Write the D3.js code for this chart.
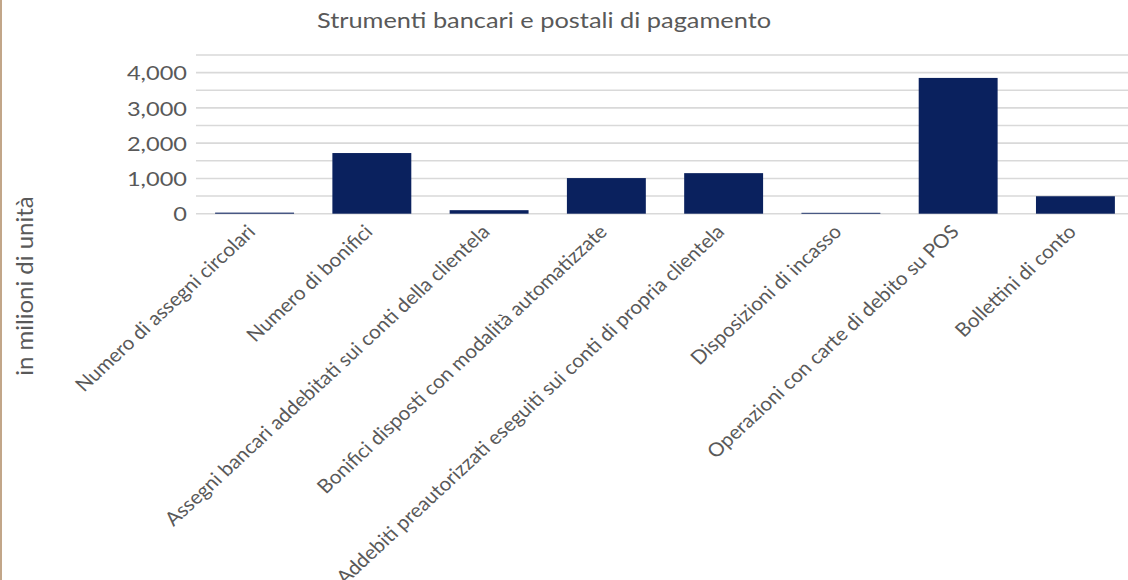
<!DOCTYPE html>
<html>
<head>
<meta charset="utf-8">
<script src="https://cdn.jsdelivr.net/npm/d3@7"></script>
<style>
  html, body { margin: 0; padding: 0; background: #fff; }
  svg { display: block; }
  text { font-family: Lato, "Open Sans", sans-serif; fill: #595959; }
</style>
</head>
<body>
<svg id="chart" width="1128" height="580"></svg>
<script>
// Payment instruments, millions of operations
const categories = [
  "Numero di assegni circolari",
  "Numero di bonifici",
  "Assegni bancari addebitati sui conti della clientela",
  "Bonifici disposti con modalità automatizzate",
  "Addebiti preautorizzati eseguiti sui conti di propria clientela",
  "Disposizioni di incasso",
  "Operazioni con carte di debito su POS",
  "Bollettini di conto"
];
const values = [30, 1720, 100, 1010, 1150, 25, 3850, 495];
const gridValues = [0, 500, 1000, 1500, 2000, 2500, 3000, 3500, 4000, 4500];
const tickLabels = [0, 1000, 2000, 3000, 4000];

const title = "Strumenti bancari e postali di pagamento";
const yTitle = "in milioni di unità";

// horizontal widening applied to the text glyphs
const sx = 1.18;
const sxLabel = 1.08;

const svg = d3.select("#chart");

// left frame edge
svg.append("rect")
  .attr("x", 0).attr("y", 0).attr("width", 2).attr("height", 580)
  .attr("fill", "#c2a689");

const x = d3.scaleBand()
  .domain(categories)
  .range([196, 1134])
  .paddingInner(0.327)
  .paddingOuter(0.163);

const y = d3.scaleLinear()
  .domain([0, 4500])
  .range([213.7, 55]);

// horizontal gridlines
svg.append("g")
  .selectAll("line")
  .data(gridValues)
  .join("line")
  .attr("x1", 196).attr("x2", 1134)
  .attr("y1", d => y(d)).attr("y2", d => y(d))
  .attr("stroke", "#d9d9d9")
  .attr("stroke-width", 1.6);

// y tick labels
const yAxis = d3.axisLeft(y)
  .tickValues(tickLabels)
  .tickFormat(d3.format(","))
  .tickSize(0)
  .tickPadding(0);

const yg = svg.append("g")
  .attr("transform", "translate(187,0)")
  .call(yAxis);
yg.select(".domain").remove();
yg.selectAll("text")
  .style("font-family", "Lato, sans-serif")
  .style("font-size", "20px")
  .attr("fill", "#595959")
  .attr("x", 0)
  .attr("dy", "0.36em")
  .attr("transform", `scale(${sx},1)`);

// bars
svg.append("g")
  .selectAll("rect")
  .data(values)
  .join("rect")
  .attr("x", (d, i) => x(categories[i]))
  .attr("width", x.bandwidth())
  .attr("y", d => y(d))
  .attr("height", d => y(0) - y(d))
  .attr("fill", "#0a215e");

// category labels, rotated
const xAxis = d3.axisBottom(x).tickSize(0).tickPadding(0);
const xg = svg.append("g")
  .attr("transform", "translate(0,214)")
  .call(xAxis);
xg.select(".domain").remove();
xg.selectAll("text")
  .style("font-family", "Lato, sans-serif")
  .style("font-size", "19.2px")
  .attr("fill", "#595959")
  .attr("text-anchor", "end")
  .attr("x", 0)
  .attr("y", 0)
  .attr("dy", null)
  .attr("transform", `translate(2,19) scale(${sxLabel},1) rotate(-45)`);

// title
svg.append("text")
  .attr("transform", `translate(544,27.7) scale(${sx},1)`)
  .attr("text-anchor", "middle")
  .style("font-size", "21.5px")
  .text(title);

// y axis title
svg.append("text")
  .attr("transform", "translate(32.5,286) rotate(-90)")
  .attr("text-anchor", "middle")
  .style("font-size", "24px")
  .text(yTitle);
</script>
</body>
</html>
